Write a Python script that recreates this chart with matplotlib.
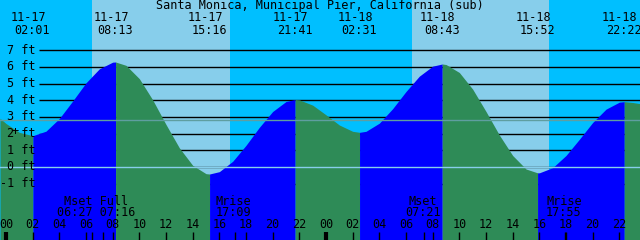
import matplotlib
matplotlib.use("Agg")
import matplotlib.pyplot as plt

# tide extremes, as in the header
ext_day = [0, 0, 0, 0, 1, 1, 1, 1]
ext_date = ["11-17", "11-17", "11-17", "11-17", "11-18", "11-18", "11-18", "11-18"]
ext_time = ["02:01", "08:13", "15:16", "21:41", "02:31", "08:43", "15:52", "22:22"]
ext_kind = ["L", "H", "L", "H", "L", "H", "L", "H"]
ext_ft = [1.88, 6.30, -0.42, 4.05, 2.08, 6.18, -0.35, 3.92]

# tide height, every hour (plus both edges)
hour_t = [-0.45] + list(range(48)) + [47.55]
hour_ft = [2.92,
           2.61, 2.08, 1.88, 2.15, 2.91, 3.96, 5.05, 5.89, 6.29, 6.10, 5.30, 4.03,
           2.55, 1.15, 0.10, -0.40, -0.28, 0.34, 1.30, 2.38, 3.33, 3.93, 4.03, 3.71,
           3.13, 2.52, 2.14, 2.14, 2.63, 3.50, 4.53, 5.45, 6.05, 6.15, 5.67, 4.67,
           3.33, 1.92, 0.69, -0.12, -0.35, -0.04, 0.69, 1.66, 2.67, 3.47, 3.89, 3.87,
           3.80]

# daylight (hours from 11-17 00:00)
sunrise = [6.43, 30.43]
sunset = [16.80, 40.73]

# moon events
moon_day = [0, 0, 0, 1, 1]
moon_time = ["06:27", "07:16", "17:09", "07:21", "17:55"]
moon_name = ["Mset", "Full", "Mrise", "Mset", "Mrise"]

ft_levels = [-1, 0, 1, 2, 3, 4, 5, 6, 7]
mean_level = 2.82

NIGHT = "#00bfff"
DAY = "#87ceeb"
RISE = "#0000ff"
FALL = "#2e8b57"


def to_hours(day, hhmm):
    hh, mm = hhmm.split(":")
    return day * 24 + int(hh) + int(mm) / 60.0


# pixel helpers (640x240 canvas, 13.33 px/h, 16.67 px/ft)
def px2h(x):
    return (x - 6) / (320 / 24)


def dpx(dx):
    return dx / (320 / 24)


def py2ft(y):
    return (167 - y) / (50 / 3)


plt.rcParams['font.family'] = ['DejaVu Sans Mono']
fs = 8.5

fig = plt.figure(figsize=(6.4, 2.4), dpi=100)
ax = fig.add_axes([0, 0, 1, 1])
x0, x1 = px2h(0), px2h(640)
y0, y1 = py2ft(240), py2ft(0)
ax.set_xlim(x0, x1)
ax.set_ylim(y0, y1)
ax.axis("off")

# sky
ax.axvspan(x0, x1, color=NIGHT, lw=0, zorder=0)
for r, s in zip(sunrise, sunset):
    ax.axvspan(r, s, color=DAY, lw=0, zorder=0)

# foot lines
for lv in ft_levels:
    ax.plot([px2h(39), x1], [lv, lv], color="black", lw=1.0, zorder=1,
            solid_capstyle="butt")
    ax.text(px2h(36), lv, "%d ft" % lv, ha="right", va="center", fontsize=fs, zorder=5)

# water: merge hourly points with the extremes
ext_h = [to_hours(d, t) for d, t in zip(ext_day, ext_time)]
pts = sorted(zip(hour_t + ext_h, hour_ft + ext_ft))
ts = [p[0] for p in pts]
hs = [p[1] for p in pts]

bounds = [x0] + ext_h + [x1]
ends = ext_kind + ["L"]
for i in range(len(bounds) - 1):
    a, b = bounds[i], bounds[i + 1]
    seg_t = [t for t in ts if a - 1e-6 <= t <= b + 1e-6]
    seg_h = [h for t, h in zip(ts, hs) if a - 1e-6 <= t <= b + 1e-6]
    col = RISE if ends[i] == "H" else FALL
    ax.fill_between(seg_t, seg_h, y0, color=col, lw=0, zorder=2)

ax.axhline(0, color=DAY, lw=1.0, zorder=3)
ax.axhline(mean_level, color="#5f9ea0", lw=1.0, zorder=3)

# header
ax.text(px2h(320), py2ft(6), "Santa Monica, Municipal Pier, California (sub)",
        ha="center", va="center", fontsize=fs, zorder=5)
for h, d, t in zip(ext_h, ext_date, ext_time):
    ax.text(h - dpx(4.5), py2ft(17.5), d, ha="center", va="center", fontsize=fs, zorder=5)
    ax.text(h - dpx(0.5), py2ft(30), t, ha="center", va="center", fontsize=fs, zorder=5)

ax.text(px2h(15), py2ft(131), "+", ha="center", va="center", fontsize=fs, zorder=5)

# hour axis
for hr in range(0, 49, 2):
    ax.text(hr, py2ft(225), "%02d" % (hr % 24), ha="center", va="center", fontsize=fs, zorder=5)
    lw = 3.0 if hr % 24 == 0 else 1.0
    ax.vlines(hr, y0, py2ft(231.5), color="black", lw=lw, zorder=5)

moon_h = [to_hours(d, t) for d, t in zip(moon_day, moon_time)]
for h in moon_h:
    ax.vlines(h, y0, py2ft(231.5), color="black", lw=1.0, zorder=5)

# moon labels, events closer than an hour share one label
groups = []
for i, h in enumerate(moon_h):
    if groups and h - moon_h[groups[-1][-1]] < 1.0:
        groups[-1].append(i)
    else:
        groups.append([i])
for g in groups:
    hc = sum(moon_h[i] for i in g) / len(g)
    ax.text(hc - dpx(1), py2ft(201.5), " ".join(moon_name[i] for i in g),
            ha="center", va="center", fontsize=fs, zorder=5)
    ax.text(hc - dpx(1), py2ft(213), " ".join(moon_time[i] for i in g),
            ha="center", va="center", fontsize=fs, zorder=5)

fig.savefig("out.png", dpi=100)
